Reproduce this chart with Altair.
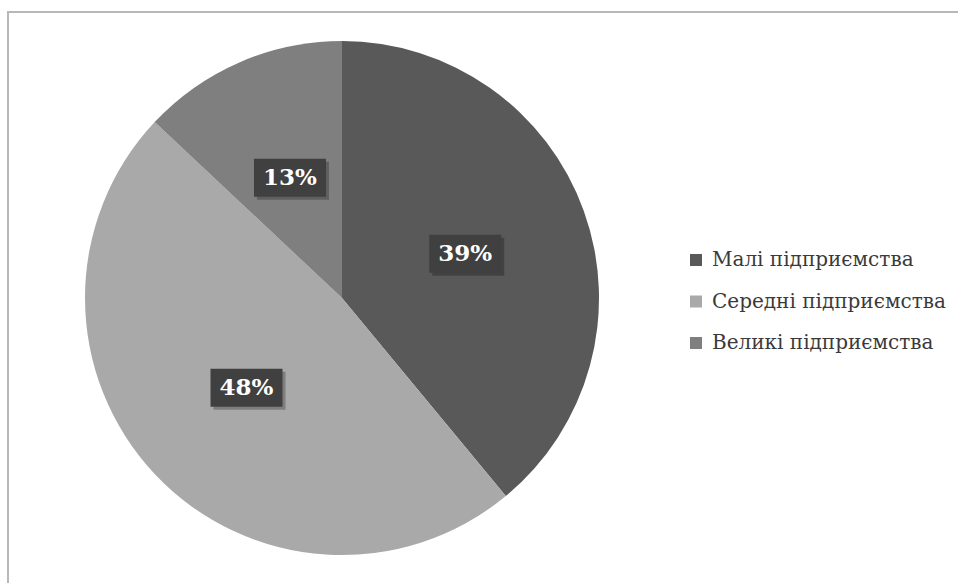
import altair as alt
import pandas as pd

categories = ["Малі підприємства", "Середні підприємства", "Великі підприємства"]
values = [39, 48, 13]
labels = ["39%", "48%", "13%"]
colors = ["#595959", "#a9a9a9", "#7f7f7f"]

df = pd.DataFrame({
    "category": categories,
    "value": values,
    "label": labels,
    "order": list(range(len(categories))),
})

CX, CY, R, LR = 342, 298, 257, 131
BW, BH = 36, 19

base = alt.Chart(df)

frame = alt.Chart(pd.DataFrame({"a": [0]})).mark_rect(
    fill=None, stroke="#b8b8b8", strokeWidth=2
).encode(x=alt.value(8), x2=alt.value(1000), y=alt.value(12), y2=alt.value(700))

pie = base.mark_arc(outerRadius=R).encode(
    theta=alt.Theta("value:Q", stack=True),
    order=alt.Order("order:Q"),
    color=alt.Color(
        "category:N",
        scale=alt.Scale(domain=categories, range=colors),
        sort=categories,
        legend=alt.Legend(
            title=None,
            orient="none",
            legendX=686,
            legendY=250,
            symbolType="square",
            symbolSize=144,
            symbolStrokeWidth=0,
            labelFont="DejaVu Serif",
            labelFontSize=20,
            labelColor="#3a3a3a",
            labelOffset=6,
            rowPadding=21.5,
            labelLimit=400,
        ),
    ),
    x=alt.value(CX),
    y=alt.value(CY),
)

pos = base.transform_window(
    cum="sum(value)", sort=[alt.SortField("order")], frame=[None, 0]
).transform_joinaggregate(
    total="sum(value)"
).transform_calculate(
    mid="(datum.cum - datum.value / 2) / datum.total * 2 * PI",
).transform_calculate(
    px=f"{CX} + {LR} * sin(datum.mid)",
    py=f"{CY} - {LR} * cos(datum.mid)",
).transform_calculate(
    x1=f"datum.px - {BW}", x2=f"datum.px + {BW}",
    y1=f"datum.py - {BH}", y2=f"datum.py + {BH}",
    sx1=f"datum.px - {BW} + 3", sx2=f"datum.px + {BW} + 3",
    sy1=f"datum.py - {BH} + 3", sy2=f"datum.py + {BH} + 3",
)

shadow = pos.mark_rect(fill="#000000", opacity=0.25).encode(
    x=alt.X("sx1:Q", scale=None), x2="sx2:Q",
    y=alt.Y("sy1:Q", scale=None), y2="sy2:Q",
)

boxes = pos.mark_rect(fill="#404040").encode(
    x=alt.X("x1:Q", scale=None), x2="x2:Q",
    y=alt.Y("y1:Q", scale=None), y2="y2:Q",
)

texts = pos.mark_text(
    font="DejaVu Serif", fontSize=23, fontWeight="bold", color="#ffffff",
    align="center", baseline="middle",
).encode(
    x=alt.X("px:Q", scale=None),
    y=alt.Y("py:Q", scale=None),
    text="label:N",
)

chart = alt.layer(frame, pie, shadow, boxes, texts).properties(
    width=958, height=583, padding=0,
    autosize=alt.AutoSizeParams(type="none"),
    background="#ffffff",
).configure_view(stroke=None)

chart.save("out.html", embed_options={"renderer": "svg", "actions": False})
